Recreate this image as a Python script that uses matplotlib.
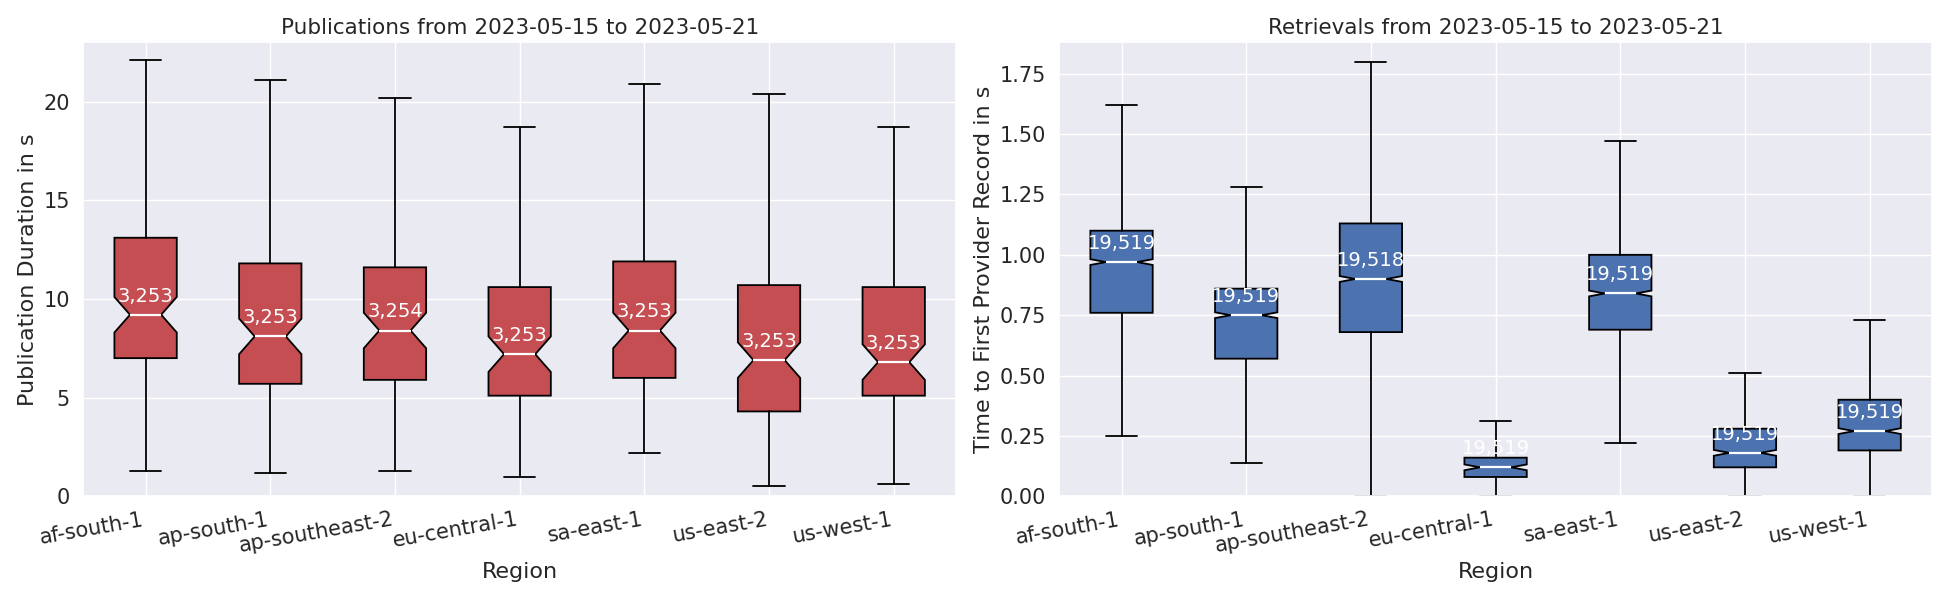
import matplotlib
matplotlib.use("Agg")
import matplotlib.pyplot as plt
import seaborn as sns

sns.set_theme(style="darkgrid")

regions = ["af-south-1", "ap-south-1", "ap-southeast-2", "eu-central-1", "sa-east-1", "us-east-2", "us-west-1"]
pub_whislo = [1.3, 1.2, 1.3, 1.0, 2.2, 0.5, 0.6]
pub_q1 = [7.0, 5.7, 5.9, 5.1, 6.0, 4.3, 5.1]
pub_med = [9.2, 8.1, 8.4, 7.2, 8.4, 6.9, 6.8]
pub_q3 = [13.1, 11.8, 11.6, 10.6, 11.9, 10.7, 10.6]
pub_whishi = [22.1, 21.1, 20.2, 18.7, 20.9, 20.4, 18.7]
pub_n = [3253, 3253, 3254, 3253, 3253, 3253, 3253]

ret_whislo = [0.25, 0.14, 0.0, 0.0, 0.22, 0.0, 0.0]
ret_q1 = [0.76, 0.57, 0.68, 0.08, 0.69, 0.12, 0.19]
ret_med = [0.97, 0.75, 0.90, 0.12, 0.84, 0.18, 0.27]
ret_q3 = [1.10, 0.86, 1.13, 0.16, 1.00, 0.28, 0.40]
ret_whishi = [1.62, 1.28, 1.80, 0.31, 1.47, 0.51, 0.73]
ret_n = [19519, 19519, 19518, 19519, 19519, 19519, 19519]


def stats(lo, q1, med, q3, hi, ci):
    out = []
    for a, b, c, d, e in zip(lo, q1, med, q3, hi):
        out.append(dict(whislo=a, q1=b, med=c, q3=d, whishi=e, fliers=[],
                        cilo=c - ci, cihi=c + ci))
    return out


fig, axes = plt.subplots(1, 2, figsize=(19.5, 6), dpi=100)
cfg = [
    (axes[0], stats(pub_whislo, pub_q1, pub_med, pub_q3, pub_whishi, 0.9), pub_n, pub_med,
     "#C44E52", "Publications from 2023-05-15 to 2023-05-21", "Publication Duration in s", (0, 23)),
    (axes[1], stats(ret_whislo, ret_q1, ret_med, ret_q3, ret_whishi, 0.012), ret_n, ret_med,
     "#4C72B0", "Retrievals from 2023-05-15 to 2023-05-21", "Time to First Provider Record in s", (0, 1.88)),
]
for ax, st, n, med, col, title, ylab, ylim in cfg:
    ax.bxp(st, shownotches=True, patch_artist=True, widths=0.5, showfliers=False,
           boxprops=dict(facecolor=col, edgecolor="black", linewidth=1.3),
           medianprops=dict(color="white", linewidth=1.6),
           whiskerprops=dict(color="black", linewidth=1.3),
           capprops=dict(color="black", linewidth=1.3))
    off = (ylim[1] - ylim[0]) * 0.02
    for i, (k, m) in enumerate(zip(n, med)):
        ax.text(i + 1, m + off, f"{k:,}", color="white", ha="center", va="bottom", fontsize=14)
    ax.set_xticks(range(1, len(regions) + 1))
    ax.set_xticklabels(regions, rotation=10, ha="right", fontsize=15)
    ax.tick_params(axis="y", labelsize=15)
    ax.set_ylim(*ylim)
    ax.set_title(title, fontsize=15.5)
    ax.set_xlabel("Region", fontsize=16)
    ax.set_ylabel(ylab, fontsize=16)

fig.tight_layout()
fig.savefig("out.png")
